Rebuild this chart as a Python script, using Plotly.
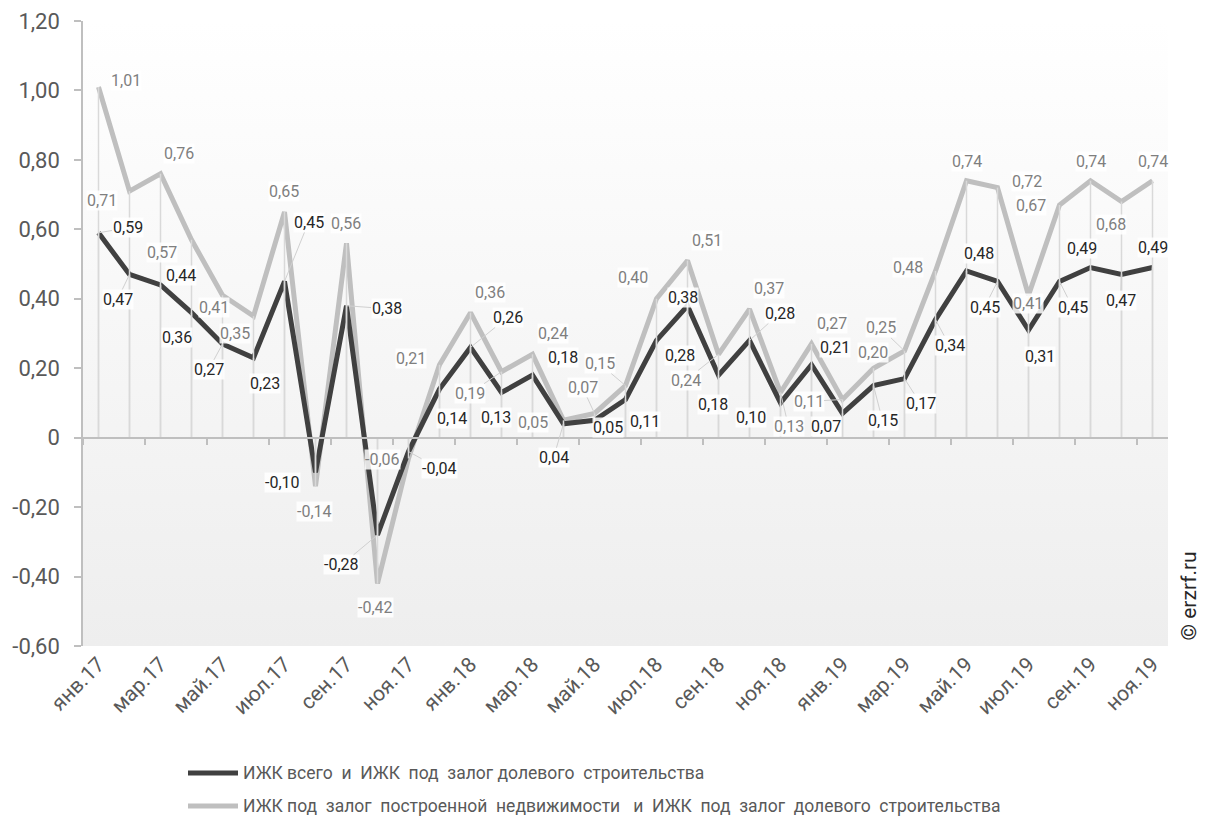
import base64
import plotly.graph_objects as go

months = ["янв.17", "фев.17", "мар.17", "апр.17", "май.17", "июн.17", "июл.17", "авг.17", "сен.17", "окт.17", "ноя.17", "дек.17",
          "янв.18", "фев.18", "мар.18", "апр.18", "май.18", "июн.18", "июл.18", "авг.18", "сен.18", "окт.18", "ноя.18", "дек.18",
          "янв.19", "фев.19", "мар.19", "апр.19", "май.19", "июн.19", "июл.19", "авг.19", "сен.19", "окт.19", "ноя.19"]

NB = "\u00a0"
dark_name = f"ИЖК всего {NB}и {NB}ИЖК {NB}под {NB}залог долевого {NB}строительства"
light_name = f"ИЖК под {NB}залог {NB}построенной {NB}недвижимости {NB}{NB}и {NB}ИЖК {NB}под {NB}залог {NB}долевого {NB}строительства"

dark_vals = [0.59, 0.47, 0.44, 0.36, 0.27, 0.23, 0.45, -0.10, 0.38, -0.28, -0.04, 0.14,
             0.26, 0.13, 0.18, 0.04, 0.05, 0.11, 0.28, 0.38, 0.18, 0.28, 0.10, 0.21,
             0.07, 0.15, 0.17, 0.34, 0.48, 0.45, 0.31, 0.45, 0.49, 0.47, 0.49]
light_vals = [1.01, 0.71, 0.76, 0.57, 0.41, 0.35, 0.65, -0.14, 0.56, -0.42, -0.06, 0.21,
              0.36, 0.19, 0.24, 0.05, 0.07, 0.15, 0.40, 0.51, 0.24, 0.37, 0.13, 0.27,
              0.11, 0.20, 0.25, 0.48, 0.74, 0.72, 0.41, 0.67, 0.74, 0.68, 0.74]

ytick_vals = [-0.6, -0.4, -0.2, 0, 0.2, 0.4, 0.6, 0.8, 1.0, 1.2]
ytick_text = ["-0,60", "-0,40", "-0,20", "0", "0,20", "0,40", "0,60", "0,80", "1,00", "1,20"]

# label placement (pixel offsets dx, dy, leader line) - layout only
dark_lbl = [(29, -5, 1), (-12, 25, 1), (20, -9, 0), (-15, 25, 0), (-14, 26, 1), (11, 26, 0), (24, -59, 1),
            (-33, 10, 0), (40, 3, 1), (-36, 30, 1), (31, 17, 1), (12, 29, 0), (37, -30, 1), (-6, 25, 0),
            (30, -18, 0), (-10, 34, 1), (13, 7, 0), (19, 22, 0), (23, 15, 0), (-5, -8, 0), (-6, 29, 0),
            (30, -27, 1), (-30, 15, 0), (23, -17, 0), (-17, 13, 0), (9, 35, 1), (16, 25, 1), (14, 26, 1),
            (12, -18, 0), (-13, 26, 1), (11, 26, 0), (13, 26, 1), (-9, -19, 0), (-1, 26, 1), (0, -20, 0)]
light_lbl = [(27, -6, 0), (-28, 9, 0), (18, -20, 0), (-30, 13, 0), (-9, 12, 0), (-19, 17, 0), (-1, -20, 0),
             (-1, 25, 0), (-1, -20, 0), (-2, 24, 0), (-26, 1, 0), (-29, -6, 0), (19, -20, 0), (-32, 22, 1),
             (20, -21, 0), (-31, 2, 0), (-12, -26, 1), (-26, -22, 1), (-24, -21, 0), (19, -20, 0), (-33, 26, 1),
             (19, -21, 0), (8, 34, 1), (20, -20, 0), (-34, 2, 1), (-1, -16, 0), (-24, -23, 1), (-28, -4, 0),
             (0, -19, 0), (29, -6, 0), (-1, 8, 0), (-29, 0, 0), (0, -19, 0), (-11, 23, 0), (0, -19, 0)]

idx = list(range(len(months)))
FONT = "Roboto, 'Open Sans', Arial, sans-serif"
DARK = "#404040"
LIGHT = "#bfbfbf"

# drop lines from each point to zero
drop_x, drop_y = [], []
for i in idx:
    for v in (dark_vals[i], light_vals[i]):
        drop_x += [i, i, None]
        drop_y += [0, v, None]

fig = go.Figure()
fig.add_trace(go.Scatter(x=drop_x, y=drop_y, mode="lines", xaxis="x2", yaxis="y",
                         line=dict(color="#d9d9d9", width=1.5), showlegend=False, hoverinfo="skip"))
fig.add_trace(go.Scatter(x=idx, y=light_vals, mode="lines", name=light_name, showlegend=False,
                         line=dict(color=LIGHT, width=5)))
fig.add_trace(go.Scatter(x=idx, y=dark_vals, mode="lines", name=dark_name, showlegend=False,
                         line=dict(color=DARK, width=5)))


def fmt(v):
    return ("%.2f" % v).replace(".", ",")


annotations = []
for vals, offs, col in ((light_vals, light_lbl, "#7f7f7f"), (dark_vals, dark_lbl, "#262626")):
    for i, v in enumerate(vals):
        dx, dy, lead = offs[i]
        a = dict(x=i, y=v, xref="x", yref="y", text=fmt(v), font=dict(family=FONT, size=16, color=col),
                 bgcolor="rgba(255,255,255,0.85)", borderpad=0)
        if lead:
            a.update(showarrow=True, ax=dx, ay=dy, arrowhead=0, arrowwidth=1, arrowcolor="#d0d0d0", standoff=0)
        else:
            a.update(showarrow=False, xshift=dx, yshift=-dy)
        annotations.append(a)

annotations.append(dict(x=1.0, y=0.0, xref="paper", yref="paper", xanchor="center", yanchor="bottom",
                        xshift=20, yshift=3, text="© erzrf.ru", textangle=-90, showarrow=False,
                        font=dict(family=FONT, size=21, color="#262626")))

# custom legend (paper coords: plot area 83..1168 px wide, 21..646 px tall)
PW, PH = 1085.0, 625.0
shapes = []
for row, (name, col) in enumerate(((dark_name, DARK), (light_name, LIGHT))):
    yp = -(127 + 33 * row) / PH
    shapes.append(dict(type="line", xref="paper", yref="paper", x0=(188 - 83) / PW, x1=(238 - 83) / PW,
                       y0=yp, y1=yp, line=dict(color=col, width=5)))
    annotations.append(dict(x=(241 - 83) / PW, y=yp, xref="paper", yref="paper", xanchor="left",
                            yanchor="middle", text=name, showarrow=False,
                            font=dict(family=FONT, size=17.5, color="#595959")))

svg = ('<svg xmlns="http://www.w3.org/2000/svg" width="100" height="100" preserveAspectRatio="none">'
       '<defs><linearGradient id="g" x1="0" y1="0" x2="0" y2="1">'
       '<stop offset="0" stop-color="#ffffff"/><stop offset="1" stop-color="#eeeeee"/></linearGradient></defs>'
       '<rect width="100" height="100" fill="url(#g)"/></svg>')
src = "data:image/svg+xml;base64," + base64.b64encode(svg.encode()).decode()

fig.update_layout(
    width=1207, height=823,
    margin=dict(l=83, r=39, t=21, b=177),
    paper_bgcolor="white", plot_bgcolor="rgba(0,0,0,0)",
    font=dict(family=FONT, color="#595959"),
    showlegend=False,
    images=[dict(source=src, xref="paper", yref="paper", x=0, y=1, sizex=1, sizey=1,
                 sizing="stretch", layer="below", xanchor="left", yanchor="top")],
    xaxis=dict(range=[-0.5, len(months) - 0.5], tickmode="array", tickvals=idx[::2], ticktext=months[::2],
               tickangle=-45, tickfont=dict(size=21, color="#595959", family=FONT), showgrid=False,
               showline=False, zeroline=False, ticks="", ticklabelstandoff=1, automargin=False),
    xaxis2=dict(range=[-0.5, len(months) - 0.5], overlaying="x", anchor="free", position=1 / 3,
                side="bottom", showline=True, linecolor="#bfbfbf", linewidth=1.5, showgrid=False,
                zeroline=False, showticklabels=False, tickmode="array",
                tickvals=[k + 0.5 for k in range(-1, len(months) - 1, 2)],
                ticks="outside", ticklen=7, tickcolor="#bfbfbf", tickwidth=1.5, automargin=False),
    yaxis=dict(range=[-0.6, 1.2], tickmode="array", tickvals=ytick_vals, ticktext=ytick_text,
               tickfont=dict(size=22, color="#595959", family=FONT), showgrid=False, zeroline=False,
               showline=True, linecolor="#bfbfbf", linewidth=1.5, ticks="outside", ticklen=7,
               tickcolor="#bfbfbf", tickwidth=1.5, ticklabelstandoff=10, automargin=False),
    shapes=shapes,
    annotations=annotations,
)

fig.write_html("out.html", config={"displayModeBar": False},
               post_script="document.body.style.margin='0';document.body.style.overflow='hidden';")
